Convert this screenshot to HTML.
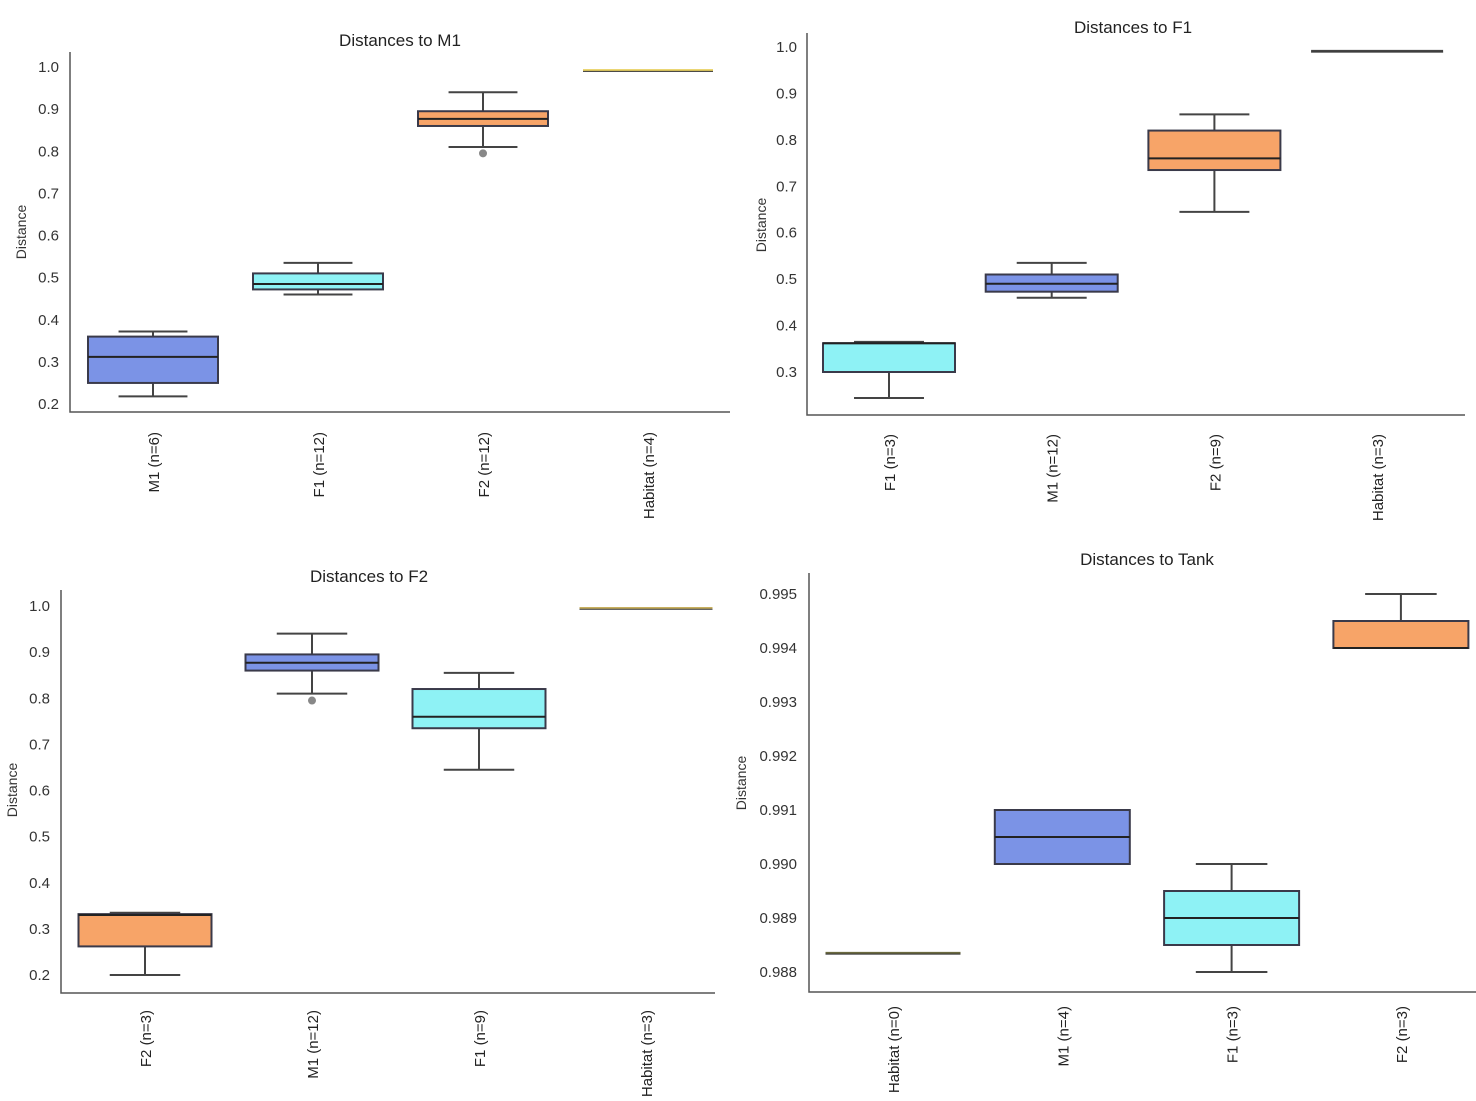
<!DOCTYPE html>
<html><head><meta charset="utf-8">
<style>
html,body{margin:0;padding:0;background:#fff;}
svg{display:block;font-family:"Liberation Sans",Arial,sans-serif;}
</style></head>
<body>
<svg id="chart" width="1476" height="1101" viewBox="0 0 1476 1101" xmlns="http://www.w3.org/2000/svg"></svg>
<script>
// ---- data ----
const titles = ["Distances to M1","Distances to F1","Distances to F2","Distances to Tank"];
const cats1 = ["M1 (n=6)","F1 (n=12)","F2 (n=12)","Habitat (n=4)"];
const cats2 = ["F1 (n=3)","M1 (n=12)","F2 (n=9)","Habitat (n=3)"];
const cats3 = ["F2 (n=3)","M1 (n=12)","F1 (n=9)","Habitat (n=3)"];
const cats4 = ["Habitat (n=0)","M1 (n=4)","F1 (n=3)","F2 (n=3)"];
// [whiskerLow, q1, median, q3, whiskerHigh]
const stats1 = [[0.218,0.25,0.312,0.36,0.372],[0.46,0.472,0.485,0.51,0.535],[0.81,0.86,0.877,0.895,0.94],[0.992,0.992,0.992,0.992,0.992]];
const stats2 = [[0.244,0.30,0.362,0.362,0.365],[0.46,0.473,0.49,0.51,0.535],[0.645,0.735,0.76,0.82,0.855],[0.991,0.991,0.991,0.991,0.991]];
const stats3 = [[0.2,0.262,0.33,0.332,0.335],[0.81,0.86,0.877,0.895,0.94],[0.645,0.735,0.76,0.82,0.855],[0.995,0.995,0.995,0.995,0.995]];
const stats4 = [[0.98835,0.98835,0.98835,0.98835,0.98835],[0.990,0.990,0.9905,0.991,0.991],[0.988,0.9885,0.989,0.9895,0.990],[0.994,0.994,0.994,0.9945,0.995]];
const outliers1 = [[],[],[0.795],[]];
const outliers2 = [[],[],[],[]];
const outliers3 = [[],[0.795],[],[]];
const outliers4 = [[],[],[],[]];
const colors1 = ["#7b93e6","#8ef2f5","#f7a468","#e8d060"];
const colors2 = ["#8ef2f5","#7b93e6","#f7a468","#444"];
const colors3 = ["#f7a468","#7b93e6","#8ef2f5","#c8b060"];
const colors4 = ["#6b6a40","#7b93e6","#8ef2f5","#f7a468"];
const ticks1 = [0.2,0.3,0.4,0.5,0.6,0.7,0.8,0.9,1.0];
const ticks2 = [0.3,0.4,0.5,0.6,0.7,0.8,0.9,1.0];
const ticks3 = [0.2,0.3,0.4,0.5,0.6,0.7,0.8,0.9,1.0];
const ticks4 = [0.988,0.989,0.990,0.991,0.992,0.993,0.994,0.995];

const svg = document.getElementById('chart');
const NS = "http://www.w3.org/2000/svg";
function mk(tag, attrs, parent){const e=document.createElementNS(NS,tag);for(const k in attrs)e.setAttribute(k,attrs[k]);parent.appendChild(e);return e;}

function panel(p){
  const g = mk('g',{},svg);
  
  
  const y = v => p.y0px + (v - p.y0v) * (p.y1px - p.y0px) / (p.y1v - p.y0v);
  const xc = i => p.x0 + i * p.step;
  const t = mk('text',{x:p.tx,y:p.ty,'text-anchor':'middle','font-size':17,fill:'#222'},g);
  t.textContent = p.title;
  
  
  const yl = mk('text',{x:0,y:0,transform:`translate(${p.ylx},${p.yly}) rotate(-90)`,'text-anchor':'middle','font-size':14,fill:'#333'},g);
  yl.textContent = 'Distance';
  
  
  const ax = mk('path',{d:`M${p.axL} ${p.axT} V${p.axB} H${p.axR}`,fill:'none',stroke:'#555','stroke-width':1.5},g);
  
  
  p.ticks.forEach(v=>{
    const tt = mk('text',{x:p.tickX,y:y(v)+5,'text-anchor':'end','font-size':15,fill:'#333'},g);
    tt.textContent = v.toFixed(p.dec);
    
    
  });
  p.cats.forEach((c,i)=>{
    const x = xc(i);
    const lab = mk('text',{x:0,y:0,transform:`translate(${x+6},${p.labY}) rotate(-90)`,'text-anchor':'end','font-size':15,fill:'#222'},g);
    lab.textContent = c;
    
    
    const s = p.stats[i];
    const bw = p.bw, cw = p.bw*0.53;
    const bg = mk('g',{},g);
    
    
    if (s[1]===s[3]) {
      mk('line',{x1:x-bw/2,x2:x+bw/2,y1:y(s[2]),y2:y(s[2]),stroke:p.colors[i],'stroke-width':2.5},bg);
      mk('line',{x1:x-bw/2,x2:x+bw/2,y1:y(s[2])+1,y2:y(s[2])+1,stroke:'#333','stroke-width':1},bg);
      return;
    }
    mk('line',{x1:x,x2:x,y1:y(s[0]),y2:y(s[1]),stroke:'#444','stroke-width':2},bg);
    mk('line',{x1:x,x2:x,y1:y(s[3]),y2:y(s[4]),stroke:'#444','stroke-width':2},bg);
    mk('line',{x1:x-cw/2,x2:x+cw/2,y1:y(s[0]),y2:y(s[0]),stroke:'#444','stroke-width':2},bg);
    mk('line',{x1:x-cw/2,x2:x+cw/2,y1:y(s[4]),y2:y(s[4]),stroke:'#444','stroke-width':2},bg);
    mk('rect',{x:x-bw/2,y:y(s[3]),width:bw,height:Math.max(1,y(s[1])-y(s[3])),fill:p.colors[i],stroke:'#3a3a4a','stroke-width':2},bg);
    mk('line',{x1:x-bw/2,x2:x+bw/2,y1:y(s[2]),y2:y(s[2]),stroke:'#222','stroke-width':2},bg);
    p.outliers[i].forEach(o=>{
      const c2 = mk('circle',{cx:x,cy:y(o),r:4,fill:'#888'},bg);
      
      
    });
  });
}

panel({id:'m1',title:titles[0],tx:400,ty:46,ylx:26,yly:232,axL:70,axT:52,axB:412,axR:730,
  y0v:0.2,y0px:404,y1v:1.0,y1px:67,dec:1,ticks:ticks1,tickX:59,x0:153,step:165,bw:130,labY:432,
  cats:cats1,stats:stats1,outliers:outliers1,colors:colors1});
panel({id:'f1',title:titles[1],tx:1133,ty:33,ylx:766,yly:225,axL:807,axT:33,axB:415,axR:1465,
  y0v:0.3,y0px:372,y1v:1.0,y1px:47,dec:1,ticks:ticks2,tickX:797,x0:889,step:162.7,bw:132,labY:434,
  cats:cats2,stats:stats2,outliers:outliers2,colors:colors2});
panel({id:'f2',title:titles[2],tx:369,ty:582,ylx:17,yly:790,axL:61,axT:590,axB:993,axR:715,
  y0v:0.2,y0px:975,y1v:1.0,y1px:606,dec:1,ticks:ticks3,tickX:50,x0:145,step:167,bw:133,labY:1010,
  cats:cats3,stats:stats3,outliers:outliers3,colors:colors3});
panel({id:'tank',title:titles[3],tx:1147,ty:565,ylx:746,yly:783,axL:809,axT:573,axB:992,axR:1476,
  y0v:0.988,y0px:972,y1v:0.995,y1px:594,dec:3,ticks:ticks4,tickX:797,x0:893,step:169.3,bw:135,labY:1006,
  cats:cats4,stats:stats4,outliers:outliers4,colors:colors4});
</script>
</body></html>
